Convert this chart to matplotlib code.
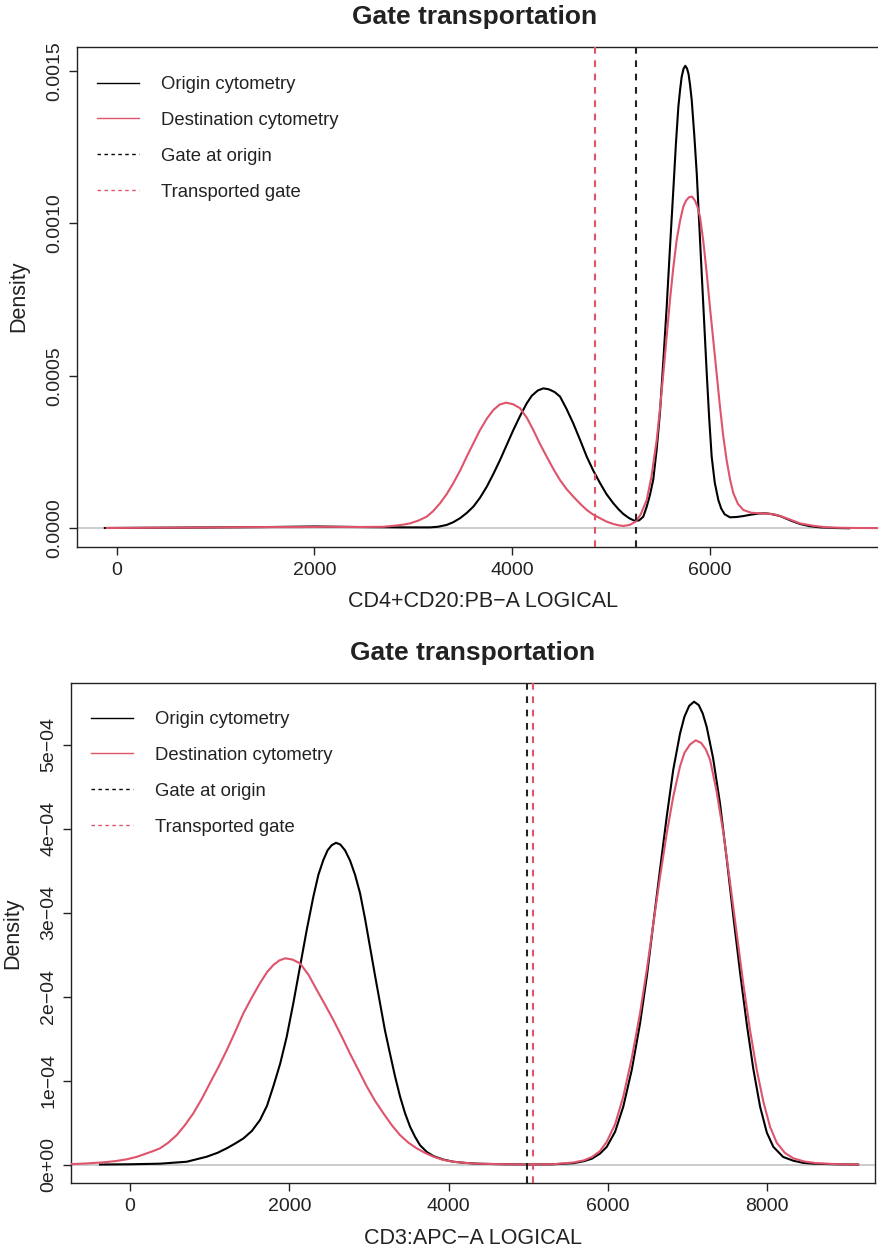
import matplotlib
matplotlib.use("Agg")
import matplotlib.pyplot as plt
from matplotlib.lines import Line2D

plt.rcParams['font.family'] = ['Liberation Sans', 'DejaVu Sans']

# ---------------- data: top panel (CD4+CD20:PB-A) ----------------
top_origin_x = [-120, 500, 1000, 1500, 2000, 2500, 2900, 3170, 3250, 3338, 3405, 3473, 3540,
                3608, 3675, 3743, 3810, 3878, 3945, 4012, 4080, 4148, 4200, 4260, 4316, 4370,
                4430, 4485, 4550, 4619, 4690, 4755, 4820, 4890, 4955, 5024, 5075, 5125, 5185,
                5243, 5285, 5327, 5362, 5395, 5428, 5463, 5496, 5530, 5564, 5597, 5631, 5657,
                5682, 5700, 5715, 5735, 5752, 5770, 5785, 5800, 5817, 5843, 5868, 5893, 5918,
                5944, 5969, 5994, 6019, 6050, 6086, 6115, 6150, 6204, 6270, 6339, 6420, 6500,
                6560, 6620, 6712, 6814, 6914, 7010, 7116, 7250, 7410]
top_origin_y = [1e-6, 2e-6, 3e-6, 4e-6, 6e-6, 4e-6, 3e-6, 3e-6, 5e-6, 1.1e-5, 2.0e-5, 3.3e-5,
                5.0e-5, 7.1e-5, 1.0e-4, 1.36e-4, 1.78e-4, 2.24e-4, 2.73e-4, 3.22e-4, 3.68e-4,
                4.10e-4, 4.35e-4, 4.52e-4, 4.59e-4, 4.56e-4, 4.47e-4, 4.32e-4, 3.92e-4, 3.44e-4,
                2.88e-4, 2.35e-4, 1.9e-4, 1.48e-4, 1.12e-4, 8.2e-5, 6.3e-5, 4.7e-5, 3.3e-5,
                2.4e-5, 2.6e-5, 3.8e-5, 7.1e-5, 1.1e-4, 1.6e-4, 2.6e-4, 3.8e-4, 5.5e-4, 7.27e-4,
                9.2e-4, 1.11e-3, 1.26e-3, 1.383e-3, 1.44e-3, 1.48e-3, 1.508e-3, 1.517e-3,
                1.508e-3, 1.49e-3, 1.455e-3, 1.405e-3, 1.29e-3, 1.164e-3, 1.0e-3, 8.36e-4,
                6.7e-4, 5.08e-4, 3.6e-4, 2.35e-4, 1.5e-4, 9.3e-5, 6.5e-5, 4.6e-5, 3.6e-5, 3.7e-5,
                4.0e-5, 4.5e-5, 4.85e-5, 4.9e-5, 4.7e-5, 4.0e-5, 2.6e-5, 1.4e-5, 7e-6, 3e-6,
                1e-6, 0.0]

top_dest_x = [-100, 500, 1000, 1500, 1855, 2100, 2400, 2697, 2800, 2900, 2967, 3050, 3136,
              3200, 3271, 3340, 3405, 3475, 3541, 3610, 3675, 3745, 3810, 3875, 3938, 4010,
              4080, 4150, 4215, 4280, 4350, 4420, 4485, 4550, 4619, 4690, 4755, 4820, 4890,
              4955, 5024, 5075, 5125, 5190, 5250, 5300, 5362, 5410, 5463, 5497, 5530, 5564,
              5597, 5631, 5665, 5700, 5732, 5760, 5790, 5820, 5850, 5875, 5901, 5935, 5969,
              6000, 6035, 6070, 6103, 6135, 6170, 6205, 6238, 6285, 6339, 6420, 6508, 6590,
              6677, 6800, 6914, 7050, 7183, 7350, 7500, 7823]
top_dest_y = [1e-6, 2e-6, 3e-6, 4e-6, 4e-6, 5e-6, 4e-6, 5e-6, 8e-6, 1.2e-5, 1.6e-5, 2.5e-5,
              3.8e-5, 5.6e-5, 8.2e-5, 1.13e-4, 1.48e-4, 1.9e-4, 2.35e-4, 2.8e-4, 3.22e-4,
              3.6e-4, 3.88e-4, 4.06e-4, 4.12e-4, 4.07e-4, 3.94e-4, 3.62e-4, 3.22e-4, 2.78e-4,
              2.35e-4, 1.93e-4, 1.58e-4, 1.29e-4, 1.04e-4, 8.0e-5, 6.0e-5, 4.5e-5, 3.3e-5,
              2.2e-5, 1.4e-5, 1.0e-5, 7.5e-6, 1.1e-5, 2.2e-5, 4.5e-5, 9.3e-5, 1.7e-4, 2.9e-4,
              3.95e-4, 5.08e-4, 6.3e-4, 7.49e-4, 8.55e-4, 9.46e-4, 1.01e-3, 1.055e-3, 1.075e-3,
              1.086e-3, 1.088e-3, 1.075e-3, 1.055e-3, 1.022e-3, 9.4e-4, 8.36e-4, 7.3e-4,
              6.18e-4, 5.05e-4, 3.99e-4, 3.05e-4, 2.24e-4, 1.6e-4, 1.15e-4, 8.0e-5, 6.0e-5,
              5.1e-5, 4.9e-5, 4.8e-5, 4.4e-5, 3.0e-5, 1.6e-5, 8e-6, 3e-6, 1.5e-6, 1e-6, 5e-7]

top_gate_origin = 5250
top_gate_transported = 4842
top_xticks = [0, 2000, 4000, 6000]
top_yticks = [0.0, 0.0005, 0.0010, 0.0015]
top_yticklabels = ["0.0000", "0.0005", "0.0010", "0.0015"]
top_xlabel = "CD4+CD20:PB\u2212A LOGICAL"

# ---------------- data: bottom panel (CD3:APC-A) ----------------
bot_origin_x = [-377, 0, 377, 711, 963, 1100, 1214, 1320, 1423, 1530, 1632, 1720, 1799, 1885,
                1967, 2050, 2134, 2220, 2302, 2365, 2427, 2480, 2530, 2586, 2640, 2700, 2762,
                2825, 2888, 2950, 3013, 3076, 3139, 3200, 3264, 3327, 3390, 3453, 3516, 3578,
                3641, 3725, 3809, 3930, 4060, 4200, 4352, 4700, 5000, 5300, 5566, 5700, 5800,
                5900, 5985, 6090, 6193, 6300, 6403, 6490, 6570, 6655, 6738, 6820, 6905, 6960,
                7020, 7081, 7140, 7190, 7240, 7320, 7407, 7490, 7575, 7660, 7742, 7825, 7910,
                7995, 8077, 8200, 8328, 8450, 8579, 8900, 9140]
bot_origin_y = [0.0, 3e-7, 1e-6, 3.3e-6, 9.3e-6, 1.4e-5, 1.93e-5, 2.5e-5, 3.1e-5, 4.0e-5,
                5.3e-5, 7.0e-5, 9.3e-5, 1.2e-4, 1.52e-4, 1.92e-4, 2.355e-4, 2.8e-4, 3.19e-4,
                3.45e-4, 3.625e-4, 3.74e-4, 3.8e-4, 3.83e-4, 3.81e-4, 3.74e-4, 3.62e-4, 3.45e-4,
                3.23e-4, 2.93e-4, 2.59e-4, 2.25e-4, 1.92e-4, 1.6e-4, 1.32e-4, 1.05e-4, 8.1e-5,
                6.1e-5, 4.5e-5, 3.3e-5, 2.3e-5, 1.5e-5, 1.0e-5, 6e-6, 3.3e-6, 2e-6, 1e-6, 3e-7,
                1e-7, 2e-7, 1.6e-6, 4e-6, 7e-6, 1.3e-5, 2.1e-5, 3.9e-5, 6.9e-5, 1.13e-4,
                1.68e-4, 2.25e-4, 2.87e-4, 3.52e-4, 4.14e-4, 4.7e-4, 5.13e-4, 5.33e-4, 5.46e-4,
                5.51e-4, 5.47e-4, 5.37e-4, 5.21e-4, 4.84e-4, 4.3e-4, 3.65e-4, 2.95e-4, 2.28e-4,
                1.68e-4, 1.14e-4, 6.9e-5, 3.8e-5, 2.1e-5, 9e-6, 4.5e-6, 2e-6, 1e-6, 2e-7, 0.0]

bot_dest_x = [-741, -540, -335, -190, -42, 80, 209, 290, 377, 480, 586, 690, 795, 900, 1004,
              1110, 1214, 1320, 1423, 1530, 1632, 1720, 1799, 1875, 1950, 2040, 2134, 2240,
              2344, 2450, 2553, 2660, 2762, 2870, 2972, 3075, 3181, 3285, 3390, 3495, 3599,
              3700, 3809, 3930, 4060, 4200, 4352, 4700, 5000, 5300, 5566, 5700, 5800, 5900,
              5985, 6090, 6193, 6300, 6403, 6490, 6570, 6655, 6738, 6820, 6905, 6960, 7030,
              7102, 7170, 7230, 7282, 7365, 7449, 7533, 7617, 7700, 7784, 7870, 7951, 8035,
              8119, 8220, 8328, 8470, 8621, 8900, 9144]
bot_dest_y = [5e-7, 1.3e-6, 2.6e-6, 4e-6, 6.2e-6, 9e-6, 1.33e-5, 1.6e-5, 1.93e-5, 2.6e-5,
              3.5e-5, 4.7e-5, 6.1e-5, 7.8e-5, 9.7e-5, 1.16e-4, 1.36e-4, 1.58e-4, 1.8e-4,
              1.99e-4, 2.16e-4, 2.29e-4, 2.375e-4, 2.43e-4, 2.455e-4, 2.44e-4, 2.395e-4,
              2.26e-4, 2.08e-4, 1.9e-4, 1.72e-4, 1.52e-4, 1.32e-4, 1.12e-4, 9.3e-5, 7.6e-5,
              6.1e-5, 4.7e-5, 3.5e-5, 2.6e-5, 1.93e-5, 1.4e-5, 9.3e-6, 5.5e-6, 3.3e-6, 2e-6,
              1e-6, 3e-7, 1e-7, 3e-7, 2.4e-6, 5e-6, 9e-6, 1.6e-5, 2.7e-5, 4.8e-5, 8.1e-5,
              1.27e-4, 1.8e-4, 2.33e-4, 2.87e-4, 3.43e-4, 3.94e-4, 4.38e-4, 4.74e-4, 4.9e-4,
              5.0e-4, 5.05e-4, 5.02e-4, 4.94e-4, 4.82e-4, 4.44e-4, 3.95e-4, 3.36e-4, 2.75e-4,
              2.15e-4, 1.6e-4, 1.12e-4, 7.5e-5, 4.5e-5, 2.6e-5, 1.4e-5, 7.4e-6, 3.5e-6, 1.6e-6,
              3e-7, 0.0]

bot_gate_origin = 4990
bot_gate_transported = 5062
bot_xticks = [0, 2000, 4000, 6000, 8000]
bot_yticks = [0.0, 1e-4, 2e-4, 3e-4, 4e-4, 5e-4]
bot_yticklabels = ["0e+00", "1e\u221204", "2e\u221204", "3e\u221204", "4e\u221204", "5e\u221204"]
bot_xlabel = "CD3:APC\u2212A LOGICAL"

title = "Gate transportation"
legend_labels = ["Origin cytometry", "Destination cytometry", "Gate at origin", "Transported gate"]

RED = "#DF536B"
BLACK = "black"
GRAY = "#BEBEBE"
TXT = "#222222"

W, H = 879, 1248
fig = plt.figure(figsize=(W / 100, H / 100), dpi=100)


def px_axes(left, right, top, bottom):
    return fig.add_axes([left / W, 1 - bottom / H, (right - left) / W, (bottom - top) / H])


def style(ax):
    for s in ax.spines.values():
        s.set_linewidth(1.0)
        s.set_color(TXT)
    ax.tick_params(direction="out", length=6, width=1.0, labelsize=14, colors=TXT)
    ax.tick_params(axis="x", pad=5)
    ax.tick_params(axis="y", pad=4)
    for lab in ax.get_yticklabels():
        lab.set_rotation(90)
        lab.set_va("center")


def draw_panel(ax, ox, oy, dx, dy, g0, g1, xt, yt, ytl, xlabel, xlim, ylim, right_spine=True):
    ax.axhline(0, color=GRAY, lw=1.1, zorder=1)
    ax.plot(ox, oy, color=BLACK, lw=1.5, zorder=3, solid_joinstyle="round")
    ax.plot(dx, dy, color=RED, lw=1.5, zorder=4, solid_joinstyle="round")
    ax.axvline(g0, color=TXT, lw=1.5, linestyle=(0, (3.2, 3.2)), zorder=5)
    ax.axvline(g1, color=RED, lw=1.5, linestyle=(0, (3.2, 3.2)), zorder=5)
    ax.set_xlim(*xlim)
    ax.set_ylim(*ylim)
    ax.set_xticks(xt)
    ax.set_xticklabels([str(v) for v in xt])
    ax.set_yticks(yt)
    ax.set_yticklabels(ytl)
    style(ax)
    if not right_spine:
        ax.spines["right"].set_visible(False)
    ax.set_xlabel(xlabel, fontsize=15.5, labelpad=9, color=TXT)
    ax.set_ylabel("Density", fontsize=15.5, labelpad=12, color=TXT)
    handles = [Line2D([], [], color=BLACK, lw=1.0),
               Line2D([], [], color=RED, lw=1.0),
               Line2D([], [], color=BLACK, lw=1.0, linestyle=(0, (2.5, 2.5))),
               Line2D([], [], color=RED, lw=1.0, linestyle=(0, (2.5, 2.5)))]
    return handles


def add_legend(ax, handles, x0, y0):
    leg = ax.legend(handles, legend_labels, loc="upper left", frameon=False, fontsize=13.3,
                    handlelength=2.3, handletextpad=1.15, labelspacing=1.02,
                    bbox_to_anchor=(x0 / W, 1 - y0 / H), bbox_transform=fig.transFigure,
                    borderaxespad=0, borderpad=0)
    for t in leg.get_texts():
        t.set_color(TXT)


# top panel
ax1 = px_axes(76.7, 890, 46.7, 546.7)
h = draw_panel(ax1, top_origin_x, top_origin_y, top_dest_x, top_dest_y,
               top_gate_origin, top_gate_transported, top_xticks, top_yticks,
               top_yticklabels, top_xlabel, (-404.7, 7823), (-6.04e-5, 1.5797e-3),
               right_spine=False)
add_legend(ax1, h, 97, 76)
fig.text(475 / W, 1 - 17 / H, title, ha="center", va="center", fontsize=19,
         fontweight="bold", color=TXT)

# bottom panel
ax2 = px_axes(71, 875, 683.3, 1183)
h = draw_panel(ax2, bot_origin_x, bot_origin_y, bot_dest_x, bot_dest_y,
               bot_gate_origin, bot_gate_transported, bot_xticks, bot_yticks,
               bot_yticklabels, bot_xlabel, (-741, 9353), (-2.2e-5, 5.729e-4))
add_legend(ax2, h, 91, 711)
fig.text(473 / W, 1 - 653 / H, title, ha="center", va="center", fontsize=19,
         fontweight="bold", color=TXT)

fig.savefig("out.png", dpi=100)
